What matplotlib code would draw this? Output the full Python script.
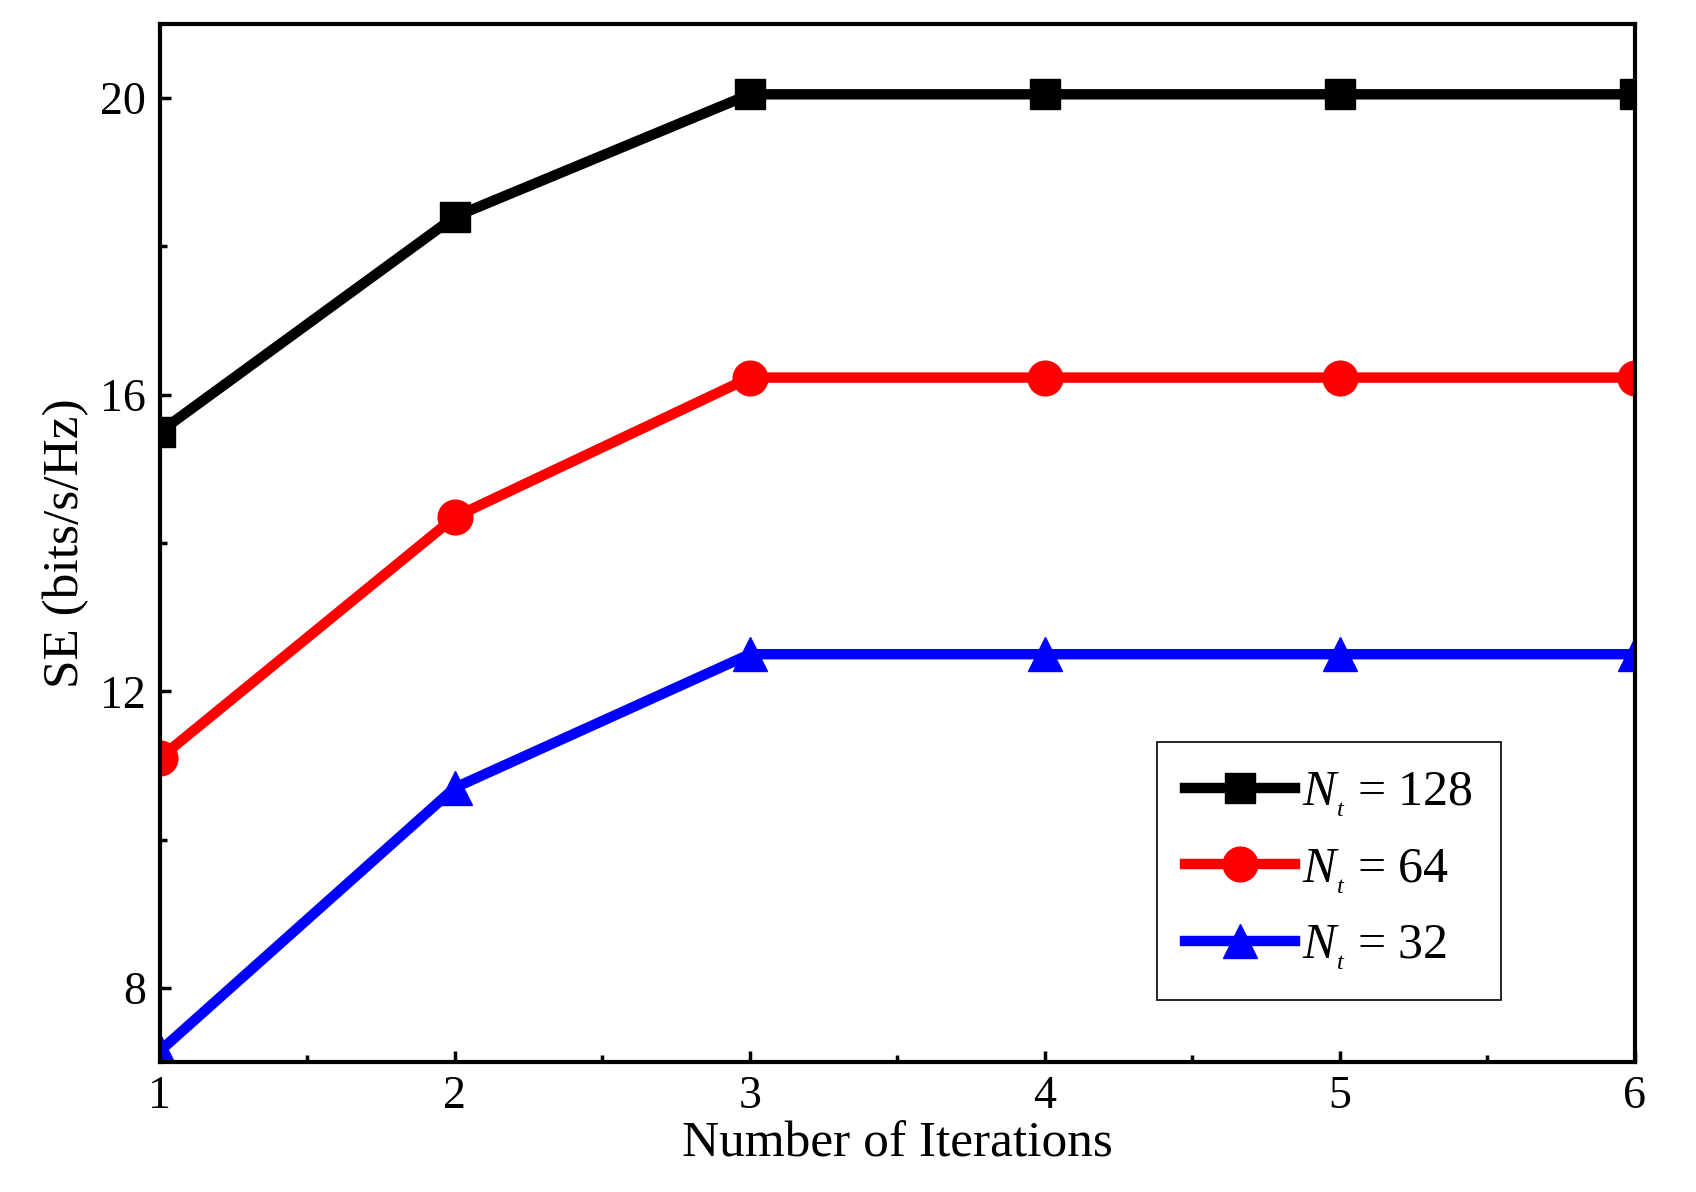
import matplotlib
matplotlib.use("Agg")
import matplotlib.pyplot as plt
from matplotlib.ticker import MultipleLocator

iterations = [1, 2, 3, 4, 5, 6]
se_128 = [15.5, 18.4, 20.05, 20.05, 20.05, 20.05]
se_64 = [11.1, 14.35, 16.23, 16.23, 16.23, 16.23]
se_32 = [7.15, 10.7, 12.5, 12.5, 12.5, 12.5]
labels = [r"$N_{_t}$ = 128", r"$N_{_t}$ = 64", r"$N_{_t}$ = 32"]

plt.rcParams['font.family'] = 'Liberation Serif'
plt.rcParams['mathtext.fontset'] = 'custom'
plt.rcParams['mathtext.rm'] = 'Liberation Serif'
plt.rcParams['mathtext.it'] = 'Liberation Serif:italic'

fig = plt.figure(figsize=(16.96, 11.92), dpi=100)
ax = fig.add_axes([0.0943, 0.109, 0.8697, 0.871])

ax.plot(iterations, se_128, color='black', lw=7.5, marker='s', ms=22, label=labels[0])
ax.plot(iterations, se_64, color='red', lw=7.5, marker='o', ms=25, label=labels[1])
ax.plot(iterations, se_32, color='blue', lw=7.5, marker='^', ms=25, label=labels[2])

ax.set_xlim(1, 6)
ax.set_ylim(7, 21)
ax.xaxis.set_major_locator(MultipleLocator(1))
ax.xaxis.set_minor_locator(MultipleLocator(0.5))
ax.yaxis.set_major_locator(MultipleLocator(4))
ax.yaxis.set_minor_locator(MultipleLocator(2))
ax.tick_params(which='both', direction='in', width=2.5, labelsize=33)
ax.tick_params(which='major', length=8, pad=10)
ax.tick_params(which='minor', length=5)
for s in ax.spines.values():
    s.set_linewidth(3)

ax.set_xlabel("Number of Iterations", fontsize=37, labelpad=2)
ax.set_ylabel("SE (bits/s/Hz)", fontsize=37, labelpad=8)

leg = ax.legend(loc='lower right', bbox_to_anchor=(0.909, 0.06), borderaxespad=0,
                fontsize=36, fancybox=False, edgecolor='black', framealpha=1,
                handlelength=2.2, handletextpad=0.15, labelspacing=0.55, borderpad=0.55)
leg.get_frame().set_linewidth(1.2)

fig.savefig("out.png", dpi=100)
